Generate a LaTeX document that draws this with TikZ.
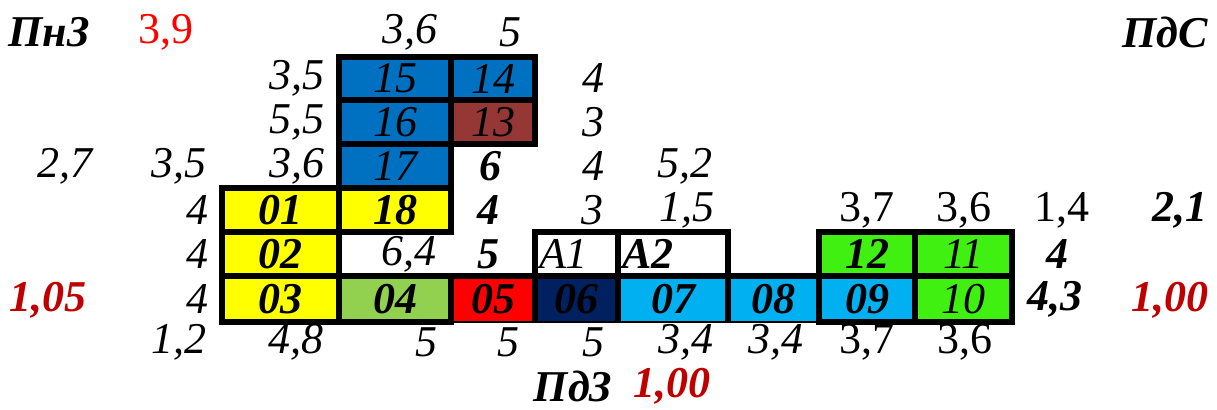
\documentclass[tikz,border=0pt]{standalone}
\usepackage{fontspec}
\setmainfont{Liberation Serif}
\usetikzlibrary{positioning}

\definecolor{cyellow}{HTML}{FFFF00}
\definecolor{cgreen}{HTML}{92D050}
\definecolor{cred}{HTML}{FF0000}
\definecolor{cnavy}{HTML}{002060}
\definecolor{ccyan}{HTML}{00B0F0}
\definecolor{clime}{HTML}{40F010}
\definecolor{cblue}{HTML}{0070C0}
\definecolor{cbrown}{HTML}{953735}
\definecolor{darkred}{HTML}{C00000}

\tikzset{
  cell/.style={draw, line width=3pt, inner sep=0pt, outer sep=0pt, minimum height=22pt, font=\bfseries\itshape},
  cellit/.style={cell, font=\itshape},
  opencell/.style={inner sep=0pt, outer sep=0pt, minimum height=23pt, font=\bfseries\itshape},
  edge/.style={line width=3pt},
  val/.style={inner sep=0pt, font=\itshape},
  valb/.style={inner sep=0pt, font=\bfseries\itshape},
  valr/.style={inner sep=0pt, font=\upshape},
  coef/.style={inner sep=0pt, font=\bfseries\itshape, text=darkred}
}

\begin{document}
\begin{tikzpicture}[x=0.5pt, y=-0.5pt]
    \useasboundingbox (0,0) rectangle (1217,409);
    \fontsize{22pt}{22pt}\selectfont

    % Bottom row of cells
    \node (c03) [cell, fill=cyellow, minimum width=58.5pt, minimum height=23pt] at (280.5,299) {03};
    \node (c04) [cell, fill=cgreen, minimum width=56pt, minimum height=23pt, right=0pt of c03] {04};
    \node (c05) [opencell, fill=cred, minimum width=42pt, right=0pt of c04] {05};
    \node (c06) [opencell, fill=cnavy, minimum width=41.5pt, right=0pt of c05] {06};
    \node (c07) [opencell, fill=ccyan, minimum width=55pt, right=0pt of c06] {07};
    \node (c08) [opencell, fill=ccyan, minimum width=45.5pt, right=0pt of c07] {08};
    \node (c09) [cell, fill=ccyan, minimum width=48pt, minimum height=23pt, right=0pt of c08] {09};
    \node (c10) [cellit, fill=clime, minimum width=48.5pt, minimum height=23pt, right=0pt of c09] {10};

    % Borders of 05--08
    \draw[edge] (c05.south west) -- (c05.north west) -- (c08.north east) -- (c08.south east);
    \draw[edge] (c05.north east) -- (c05.south east);
    \draw[edge] (c06.north east) -- (c06.south east);
    \draw[edge] (c07.north east) -- (c07.south east);
    \draw[line width=0.75pt] (c05.south west) -- (c08.south east);

    % Second row
    \node (c02) [cell, fill=cyellow, minimum width=58.5pt, above=0pt of c03] {02};
    \node (a1) [cellit, text width=37.5pt, inner xsep=2pt, align=left, above=0pt of c06] {A1};
    \node (a2) [cell, text width=51pt, inner xsep=2pt, align=left, above=0pt of c07] {A2};
    \node (c12) [cell, fill=clime, minimum width=48pt, above=0pt of c09] {12};
    \node (c11) [cellit, fill=clime, minimum width=48.5pt, above=0pt of c10] {11};

    % Third row and the column above
    \node (c01) [cell, fill=cyellow, minimum width=58.5pt, above=0pt of c02] {01};
    \node (c18) [cell, fill=cyellow, minimum width=56pt, right=0pt of c01] {18};
    \node (c17) [cellit, fill=cblue, minimum width=56pt, above=0pt of c18] {17};
    \node (c16) [cellit, fill=cblue, minimum width=56pt, above=0pt of c17] {16};
    \node (c15) [cellit, fill=cblue, minimum width=56pt, minimum height=21.5pt, above=0pt of c16] {15};
    \node (c13) [cellit, fill=cbrown, minimum width=42pt, right=0pt of c16] {13};
    \node (c14) [cellit, fill=cblue, minimum width=42pt, minimum height=21.5pt, right=0pt of c15] {14};

    % Top line
    \node (pnz) [valb] at (49,32) {ПнЗ};
    \node (k39) [valr, text=cred] at (166,32) {3,9};
    \node (t36) [val] at (410,32) {3,6};
    \node (t5) [val] at (510,32) {5};
    \node (pds) [valb] at (1165,32) {ПдС};

    % Values beside the cells
    \node (l15) [val] at (297,78) {3,5};
    \node (r14) [val] at (593,78) {4};
    \node (l16) [val] at (297,122) {5,5};
    \node (r13) [val] at (593,122) {3};
    \node (l17a) [val] at (65,166) {2,7};
    \node (l17b) [val] at (179,166) {3,5};
    \node (l17c) [val] at (297,166) {3,6};
    \node (r17a) [valb] at (490,166) {6};
    \node (r17b) [val] at (593,166) {4};
    \node (r17c) [val] at (685,166) {5,2};
    \node (l01) [val] at (197,210) {4};
    \node (r01a) [valb] at (488,210) {4};
    \node (r01b) [val] at (592,210) {3};
    \node (r01c) [val] at (687,210) {1,5};
    \node (r01d) [valr] at (867,210) {3,7};
    \node (r01e) [valr] at (964,210) {3,6};
    \node (r01f) [valr] at (1062,210) {1,4};
    \node (r01g) [valb] at (1180,210) {2,1};
    \node (l02) [val] at (197,254) {4};
    \node (m02a) [val] at (409,254) {6,4};
    \node (m02b) [valb] at (488,254) {5};
    \node (r02) [valb] at (1057,254) {4};
    \node (k105) [coef] at (48,300) {1,05};
    \node (l03) [val] at (197,299) {4};
    \node (r03) [valb] at (1055,299) {4,3};
    \node (k100a) [coef] at (1170,300) {1,00};

    % Values under the cells
    \node (b1) [val] at (179,342) {1,2};
    \node (b2) [val] at (296,342) {4,8};
    \node (b3) [val] at (426,342) {5};
    \node (b4) [val] at (508,342) {5};
    \node (b5) [val] at (593,342) {5};
    \node (b6) [val] at (686,342) {3,4};
    \node (b7) [val] at (776,342) {3,4};
    \node (b8) [valr] at (867,342) {3,7};
    \node (b9) [valr] at (965,342) {3,6};

    % Bottom line
    \node (pdz) [valb] at (573,386) {ПдЗ};
    \node (k100b) [coef] at (672,386) {1,00};
\end{tikzpicture}
\end{document}
